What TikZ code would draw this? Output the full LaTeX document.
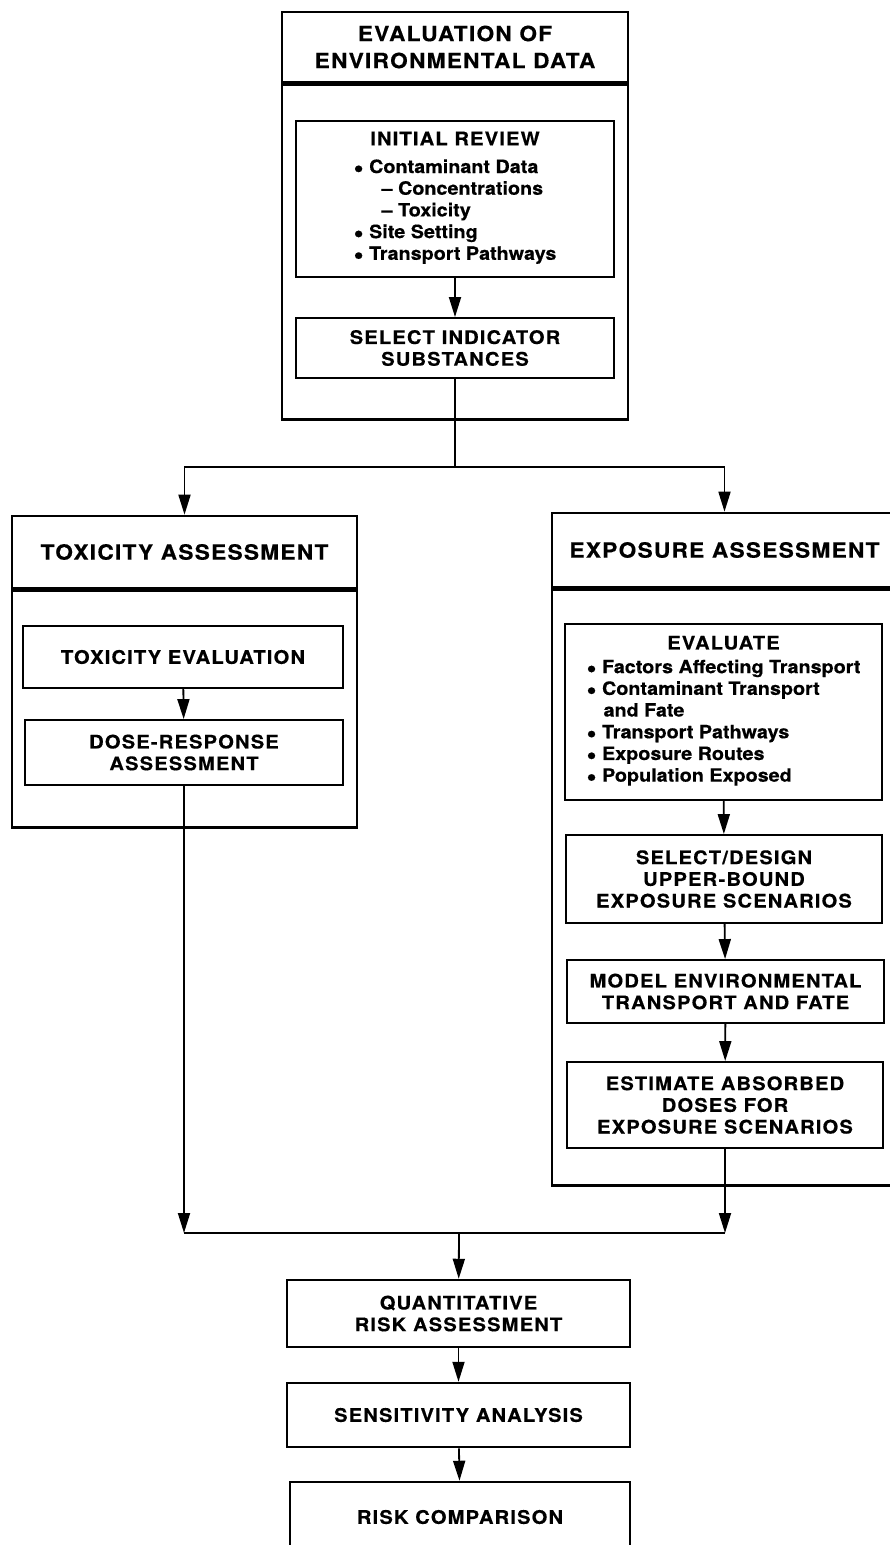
\documentclass[tikz,border=0pt]{standalone}
\usepackage{fontspec}
\setmainfont{TeX Gyre Heros}[FakeStretch=1.08, FakeBold=0.4]
\newfontfamily\capsfont{TeX Gyre Heros}[FakeStretch=1.08, LetterSpace=6, FakeBold=0.4]
\usetikzlibrary{positioning,arrows.meta}

\newcommand{\listfont}{\rmfamily\bfseries\fontsize{18.3}{21.7}\selectfont}
\newcommand{\blt}{\smash{\raisebox{-3.8pt}{\scalebox{1.45}{\textbullet}}}}

\begin{document}
\begin{tikzpicture}[x=1pt, y=-1pt, >={Triangle[length=20pt,width=12pt]},
    outer/.style={rectangle, draw, line width=2.7pt, inner sep=0pt, align=center},
    title/.style={font=\capsfont\bfseries\fontsize{21}{27}\selectfont},
    inbox/.style={rectangle, draw, line width=1.9pt, inner sep=0pt, align=center,
        font=\capsfont\bfseries\fontsize{18.7}{21.7}\selectfont},
    lowbox/.style={inbox, line width=2.5pt},
    link/.style={line width=1.8pt}]
    \useasboundingbox (0,0) rectangle (890,1545);
    \clip (0,0) rectangle (890,1545);

    % Evaluation of environmental data
    \node[outer, title, minimum width=346pt, minimum height=70pt] (evaltitle) at (455,47) {EVALUATION OF\\ENVIRONMENTAL DATA};
    \node[outer, minimum width=346pt, minimum height=335pt, anchor=north] (evalbody) at (evaltitle.south) {};
    \node[inbox, minimum width=318pt, minimum height=156pt] (initrev) at (455,199) {INITIAL REVIEW\\[6pt]\listfont
        \begin{tabular}[t]{@{}l@{}}
        \blt\ Contaminant Data\\
        \hspace{28pt}-- Concentrations\\
        \hspace{28pt}-- Toxicity\\
        \blt\ Site Setting\\
        \blt\ Transport Pathways
        \end{tabular}};
    \node[inbox, minimum width=318pt, minimum height=60pt] (selind) at (455,348) {SELECT INDICATOR\\SUBSTANCES};

    % Toxicity assessment
    \node[outer, title, minimum width=345pt, minimum height=72pt] (toxtitle) at (184.5,552) {TOXICITY ASSESSMENT};
    \node[outer, minimum width=345pt, minimum height=237pt, anchor=north] (toxbody) at (toxtitle.south) {};
    \node[inbox, minimum width=320pt, minimum height=62pt] (toxeval) at (183,657) {TOXICITY EVALUATION};
    \node[inbox, minimum width=318pt, minimum height=65pt] (dose) at (184,752.5) {DOSE-RESPONSE\\ASSESSMENT};

    % Exposure assessment
    \node[outer, title, minimum width=345pt, minimum height=74pt] (exptitle) at (724.5,550) {EXPOSURE ASSESSMENT};
    \node[outer, minimum width=345pt, minimum height=596pt, anchor=north] (expbody) at (exptitle.south) {};
    \node[inbox, minimum width=317pt, minimum height=176pt] (evaluate) at (723.5,712) {EVALUATE\\[2pt]\listfont
        \begin{tabular}[t]{@{}l@{}}
        \blt\ Factors Affecting Transport\\
        \blt\ Contaminant Transport\\
        \hspace{17pt}and Fate\\
        \blt\ Transport Pathways\\
        \blt\ Exposure Routes\\
        \blt\ Population Exposed
        \end{tabular}};
    \node[inbox, minimum width=316pt, minimum height=88pt] (seldesign) at (724,879) {SELECT/DESIGN\\UPPER-BOUND\\EXPOSURE SCENARIOS};
    \node[inbox, minimum width=317pt, minimum height=63pt] (model) at (725.5,991.5) {MODEL ENVIRONMENTAL\\TRANSPORT AND FATE};
    \node[inbox, minimum width=316pt, minimum height=86pt] (estim) at (725,1105) {ESTIMATE ABSORBED\\DOSES FOR\\EXPOSURE SCENARIOS};

    % Risk steps
    \node[lowbox, minimum width=343pt, minimum height=67pt] (qra) at (458.5,1313.5) {QUANTITATIVE\\RISK ASSESSMENT};
    \node[lowbox, minimum width=343pt, minimum height=64pt] (sens) at (458.5,1415) {SENSITIVITY ANALYSIS};
    \node[lowbox, minimum width=340pt, minimum height=70pt] (riskcmp) at (460,1517) {RISK COMPARISON};

    % Arrows
    \coordinate (split) at (455,467);
    \coordinate (join) at (459,1233);
    \draw[link, ->] (initrev) -- (selind);
    \draw[link] (selind.south) -- (split);
    \draw[link, ->] (split) -| (toxtitle.north);
    \draw[link, ->] (split) -| (exptitle.north);
    \draw[link, ->] (toxeval) -- (dose);
    \draw[link, ->] (evaluate) -- (seldesign);
    \draw[link, ->] (seldesign) -- (model);
    \draw[link, ->] (model) -- (estim);
    \draw[link, ->] (dose.south) -- (dose.south |- join);
    \draw[link, ->] (estim.south) -- (estim.south |- join);
    \draw[link] (dose.south |- join) -- (estim.south |- join);
    \draw[link, ->] (join) -- (qra);
    \draw[link, ->] (qra) -- (sens);
    \draw[link, ->] (sens) -- (riskcmp);
\end{tikzpicture}
\end{document}
